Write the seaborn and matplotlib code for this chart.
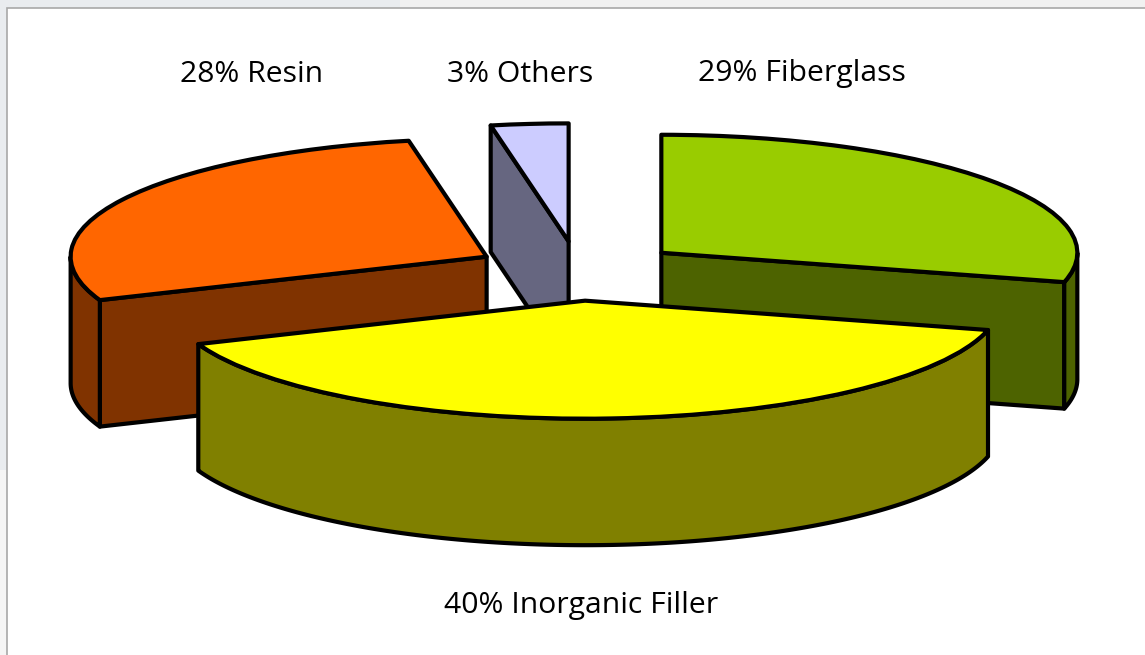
import numpy as np
import seaborn as sns
import matplotlib.pyplot as plt
from matplotlib.patches import Polygon, Rectangle

# %% DATA, clockwise from 12 o'clock

materials = ['Fiberglass', 'Inorganic Filler', 'Resin', 'Others']
shares = [29, 40, 28, 3]
top_colors = ['#99cc00', '#ffff00', '#ff6600', '#ccccff']
side_colors = ['#4d6300', '#808000', '#803300', '#666680']
draw_order = [3, 0, 2, 1]  # back to front

# %% PIE GEOMETRY

W, H = 1145, 655
PIE_X, PIE_Y = 578.5, 271  # pie centre in pixels
RX, RY = 416, 118  # squashed radius in pixels
DEPTH = 126.5 / RY
EXPLODE = 0.252
LW = 3

sns.set_theme(style='white')
plt.rcParams['font.family'] = ['Open Sans', 'DejaVu Sans']

fig = plt.figure(figsize=(W / 100, H / 100), dpi=100, facecolor='#e9ecef')
# slide background showing around the panel
fig.add_artist(Rectangle((400 / W, 1 - 8 / H), 1, 8 / H, transform=fig.transFigure,
                         facecolor='#f1f1f1', edgecolor='none', zorder=-3))
fig.add_artist(Rectangle((0, 0), 7 / W, 1 - 470 / H, transform=fig.transFigure,
                         facecolor='#f5f5f5', edgecolor='none', zorder=-3))
fig.add_artist(Rectangle((7 / W, -0.01), 1, 1.01 - 8 / H, transform=fig.transFigure,
                         facecolor='white', edgecolor='#a8a8a8', linewidth=1.2, zorder=-2))
ax = fig.add_axes([0, 0, 1, 1])
ax.patch.set_alpha(0)

wedges, _ = ax.pie(
    shares,
    explode=[EXPLODE] * len(shares),
    colors=top_colors,
    startangle=90,
    counterclock=False,
    wedgeprops={'edgecolor': 'black', 'linewidth': LW, 'joinstyle': 'round'},
)
ax.set_aspect('auto')
ax.set_xlim(-PIE_X / RX, (W - PIE_X) / RX)
ax.set_ylim((PIE_Y - H) / RY, PIE_Y / RY)

ends = 90 - 3.6 * np.cumsum(shares)
starts = ends + 3.6 * np.array(shares)


def add_wall(xs, ys, color, z):
    # extrude an outline downwards by the pie depth
    xy = np.r_[np.c_[xs, ys], np.c_[xs, np.array(ys) - DEPTH][::-1]]
    ax.add_patch(Polygon(xy, closed=True, facecolor=color, edgecolor='black',
                         linewidth=LW, joinstyle='round', zorder=z))


for z, i in enumerate(draw_order):
    mid = np.radians((starts[i] + ends[i]) / 2)
    cx, cy = EXPLODE * np.cos(mid), EXPLODE * np.sin(mid)
    s, e = starts[i], ends[i]

    # straight cut faces that look towards the viewer
    for edge, normal in [(s, s + 90), (e, e - 90)]:
        if np.sin(np.radians(normal)) < -1e-9:
            t = np.radians(edge)
            add_wall([cx, cx + np.cos(t)], [cy, cy + np.sin(t)], side_colors[i], 2 * z + 1)

    # rounded outer wall, front half of the rim only
    t = np.radians(np.linspace(s, e, 300))
    t = t[np.sin(t) <= 0]
    if len(t) > 1:
        add_wall(cx + np.cos(t), cy + np.sin(t), side_colors[i], 2 * z + 1)

    wedges[i].set_zorder(2 * z + 2)

# %% LABELS

label_xy = [(802, 74), (581, 606), (252, 74), (520, 74)]
for name, share, (px, py) in zip(materials, shares, label_xy):
    fig.text(px / W, 1 - py / H, f'{share}% {name}', fontsize=21.7, color='black',
             ha='center', va='center', zorder=20)

fig.savefig('out.png', dpi=100, facecolor=fig.get_facecolor())
